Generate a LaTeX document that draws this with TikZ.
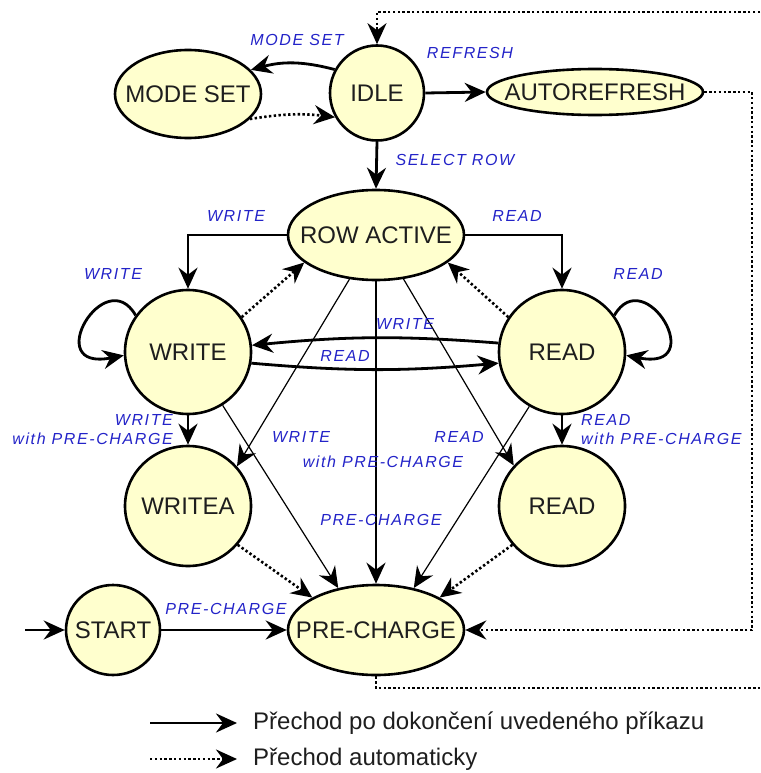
\documentclass[tikz,border=0pt]{standalone}
\usepackage{fontspec}
\setmainfont{Liberation Sans}
\newfontfamily\lblfont[LetterSpace=10]{Liberation Sans}
\usetikzlibrary{shapes.geometric,arrows.meta}
\definecolor{nodefill}{RGB}{255,255,206}
\definecolor{lblblue}{RGB}{35,35,200}
\definecolor{txtdark}{RGB}{30,30,30}
\tikzset{bigtip/.tip={Stealth[length=21pt 0,width=19pt 0,inset=7pt 0]}}
\begin{document}
\begin{tikzpicture}[x=1pt,y=-1pt,
  state/.style={draw,line width=2.6pt,fill=nodefill,ellipse,inner sep=0pt},
  nodetext/.style={font=\fontsize{24}{28}\selectfont,text=txtdark,inner sep=0pt},
  thickarr/.style={-bigtip,line width=2.8pt},
  thinarr/.style={-bigtip,line width=1.2pt},
  dotarr/.style={-bigtip,line width=2.6pt,dash pattern=on 2.4pt off 2.4pt},
  dotline/.style={line width=2.6pt,dash pattern=on 2.4pt off 2.4pt},
  lbl/.style={font=\lblfont\itshape\fontsize{16}{19}\selectfont,text=lblblue,inner sep=0pt},
  legtext/.style={font=\fontsize{24}{28}\selectfont,text=txtdark,inner sep=0pt,anchor=west}
]
\path[use as bounding box] (0,0) rectangle (760,773);

% states
\node[state,minimum width=146pt,minimum height=88pt,label={[nodetext]center:MODE SET}] (ms) at (188,94) {};
\node[state,minimum width=94pt,minimum height=95pt,label={[nodetext]center:IDLE}] (idle) at (377,93) {};
\node[state,minimum width=216pt,minimum height=46pt,label={[nodetext]center:AUTOREFRESH}] (ar) at (595,92) {};
\node[state,minimum width=176pt,minimum height=90pt,label={[nodetext]center:ROW ACTIVE}] (ra) at (376,235) {};
\node[state,minimum width=126pt,minimum height=124pt,label={[nodetext]center:WRITE}] (wr) at (188,352) {};
\node[state,minimum width=126pt,minimum height=124pt,label={[nodetext]center:READ}] (rd) at (562,352) {};
\node[state,minimum width=126pt,minimum height=120pt,label={[nodetext]center:WRITEA}] (wa) at (188,506) {};
\node[state,minimum width=126pt,minimum height=120pt,label={[nodetext]center:READ}] (rd2) at (562,506) {};
\node[state,minimum width=94pt,minimum height=90pt,label={[nodetext]center:START}] (st) at (113,630) {};
\node[state,minimum width=176pt,minimum height=90pt,label={[nodetext]center:PRE-CHARGE}] (pc) at (376,630) {};

% connectors
\draw[thickarr] (idle.151) to[bend right=15] (ms.21);
\draw[dotarr] (ms.-22) to[bend left=8] (idle.210);
\draw[thickarr] (idle.east) -- (ar.west);
\draw[thickarr] (idle.south) -- (ra.north);
\draw[thickarr] (ra.west) -| (wr.north);
\draw[thickarr] (ra.east) -| (rd.north);
\draw[thickarr] (wr.145) .. controls (105,262) and (40,372) .. (wr.183);
\draw[thickarr] (rd.35) .. controls (645,262) and (710,372) .. (rd.-3);
\draw[dotarr] (wr.33) -- (ra.201);
\draw[dotarr] (rd.147) -- (ra.-21);
\draw[thickarr] (rd.172) to[bend right=5] (wr.6);
\draw[thickarr] (wr.-10) to[bend right=5] (rd.190);
\draw[thickarr] (wr.south) -- (wa.north);
\draw[thickarr] (rd.south) -- (rd2.north);
\draw[thinarr] (ra.239) -- (wa.39);
\draw[thinarr] (ra.-58) -- (rd2.140);
\draw[thickarr] (ra.south) -- (pc.north);
\draw[thinarr] (wr.-57) -- (pc.132);
\draw[thinarr] (rd.239) -- (pc.48);
\draw[dotarr] (wa.-38) -- (pc.153);
\draw[dotarr] (rd2.218) -- (pc.27);
\draw[thickarr] (st.east) -- (pc.west);
\coordinate (in) at (25,630);
\draw[thickarr] (in) -- (st.west);
\coordinate (c1) at (752,92);
\coordinate (c2) at (752,630);
\draw[dotarr] (ar.east) -- (c1) -- (c2) -- (pc.east);
\coordinate (topR) at (760,12);
\draw[dotarr] (topR) -| (idle.north);
\coordinate (botR) at (760,688);
\draw[dotline] (pc.south) |- (botR);

% labels
\node[lbl] (t1) at (297,40) {MODE SET};
\node[lbl] (t2) at (470,53) {REFRESH};
\node[lbl] (t3) at (455,160) {SELECT ROW};
\node[lbl] (t4) at (236,216) {WRITE};
\node[lbl] (t5) at (517,216) {READ};
\node[lbl] (t6) at (113,274) {WRITE};
\node[lbl] (t7) at (638,274) {READ};
\node[lbl] (t8) at (405,324) {WRITE};
\node[lbl] (t9) at (345,356) {READ};
\node[lbl,align=right,anchor=east] (t10) at (173,430) {WRITE\\with PRE-CHARGE};
\node[lbl,align=left,anchor=west] (t11) at (581,430) {READ\\with PRE-CHARGE};
\node[lbl] (t12) at (301,437) {WRITE};
\node[lbl] (t13) at (459,437) {READ};
\node[lbl] (t14) at (383,462) {with PRE-CHARGE};
\node[lbl] (t15) at (381,520) {PRE-CHARGE};
\node[lbl] (t16) at (226,609) {PRE-CHARGE};

% legend
\coordinate (l1a) at (150,723);
\coordinate (l1b) at (237,723);
\draw[thickarr] (l1a) -- (l1b);
\node[legtext] (l1t) at (253,723) {Přechod po dokončení uvedeného příkazu};
\coordinate (l2a) at (150,759);
\coordinate (l2b) at (237,759);
\draw[dotarr] (l2a) -- (l2b);
\node[legtext] (l2t) at (253,759) {Přechod automaticky};
\end{tikzpicture}
\end{document}
